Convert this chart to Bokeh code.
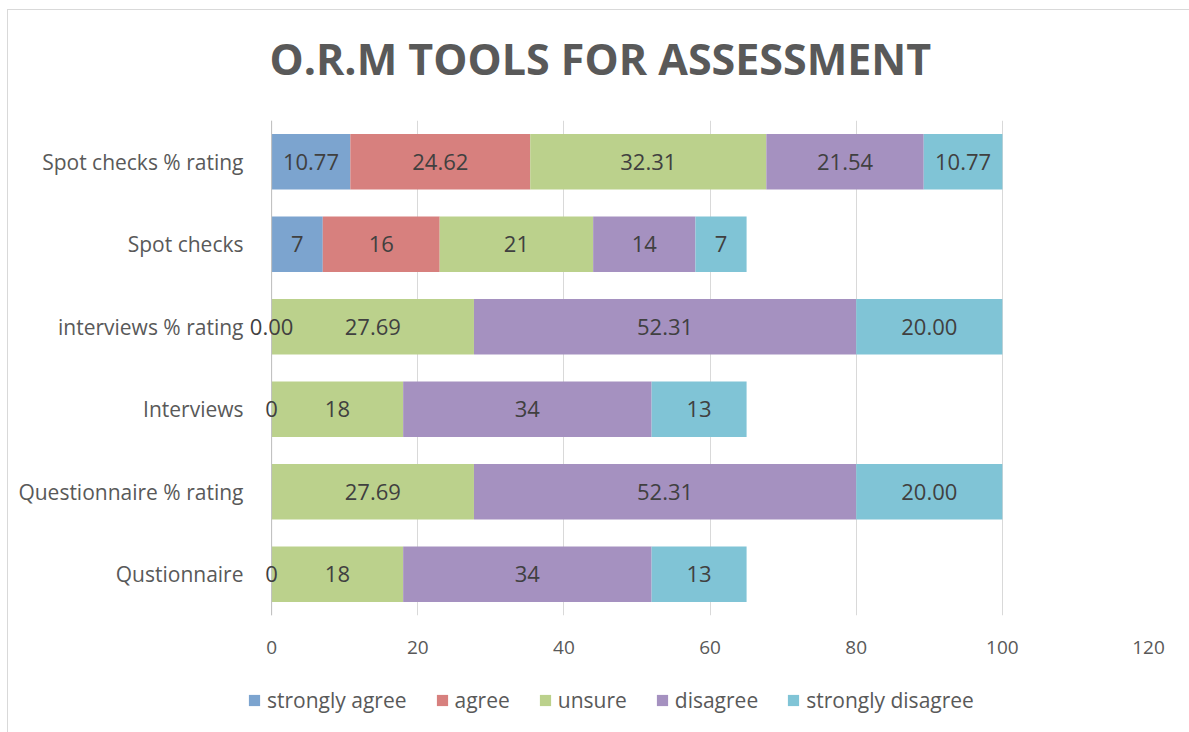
import numpy as np
from bokeh.plotting import figure
from bokeh.layouts import column
from bokeh.models import (ColumnDataSource, Legend, LegendItem, FixedTicker,
                          LabelSet, Span, Range1d)
from bokeh.core.properties import value
from bokeh.embed import file_html
from bokeh.resources import INLINE

title_text = "O.R.M TOOLS FOR ASSESSMENT"
categories = ["Qustionnaire", "Questionnaire % rating", "Interviews",
              "interviews % rating", "Spot checks", "Spot checks % rating"]
series = ["strongly agree", "agree", "unsure", "disagree", "strongly disagree"]
colors = ["#7ca4cf", "#d7807e", "#bbd18c", "#a591c0", "#80c4d6"]

# NaN = no value / no label shown
strongly_agree = [np.nan, np.nan, np.nan, np.nan, 7, 10.77]
agree = [0, np.nan, 0, 0.00, 16, 24.62]
unsure = [18, 27.69, 18, 27.69, 21, 32.31]
disagree = [34, 52.31, 34, 52.31, 14, 21.54]
strongly_disagree = [13, 20.00, 13, 20.00, 7, 10.77]
is_percent = [False, True, False, True, False, True]
x_ticks = [0, 20, 40, 60, 80, 100, 120]

FONT = "Open Sans"
TXT = "#595959"
W = 1181
FW = 901


def bare(fig):
    fig.axis.visible = False
    fig.grid.visible = False
    fig.outline_line_color = None
    return fig


# ---- header with the title (its frame is aligned with the chart frame) ----
head = bare(figure(width=W, height=110, x_range=Range1d(0, FW), y_range=Range1d(0, 110),
                   output_backend="svg", toolbar_location=None, min_border=0))
head.text(x=[22], y=[62], text=[title_text], text_align="left",
          text_baseline="alphabetic", text_font=value(FONT), text_font_size="43px",
          text_font_style="bold", text_color=TXT)

# ---- main chart ----
p = figure(frame_width=FW, frame_height=495, y_range=categories, x_range=(-3.3, 120),
           output_backend="svg", toolbar_location=None,
           min_border_left=239, min_border_right=41, min_border_top=0,
           min_border_bottom=55)
p.outline_line_color = None

p.xgrid.grid_line_color = "#d9d9d9"
p.xgrid.ticker = FixedTicker(ticks=x_ticks)
p.ygrid.grid_line_color = None
p.add_layout(Span(location=0, dimension="height", line_color="#bfbfbf", line_width=1))

data = [strongly_agree, agree, unsure, disagree, strongly_disagree]
left = np.zeros(len(categories))
lab_x, lab_y, lab_t = [], [], []
for name, vals, col in zip(series, data, colors):
    v = np.array(vals, dtype=float)
    w = np.nan_to_num(v)
    src = ColumnDataSource(dict(y=categories, left=left.copy(), right=left + w))
    p.hbar(y="y", left="left", right="right", height=0.67, source=src,
           fill_color=col, line_color=None)
    for i in range(len(categories)):
        if not np.isnan(v[i]):
            lab_x.append(left[i] + w[i] / 2)
            lab_y.append(categories[i])
            lab_t.append(f"{v[i]:.2f}" if is_percent[i] else f"{v[i]:.0f}")
    left = left + w

lab_src = ColumnDataSource(dict(x=lab_x, y=lab_y, t=lab_t))
p.add_layout(LabelSet(x="x", y="y", text="t", source=lab_src,
                      text_align="center", text_baseline="middle",
                      text_font=value(FONT), text_font_size="22px",
                      text_color="#404040"))

p.xaxis.ticker = FixedTicker(ticks=x_ticks)
p.xaxis.axis_line_color = None
p.xaxis.major_tick_line_color = None
p.xaxis.minor_tick_line_color = None
p.xaxis.major_label_text_font = FONT
p.xaxis.major_label_text_font_size = "19px"
p.xaxis.major_label_text_color = TXT
p.xaxis.major_label_standoff = 19

p.yaxis.axis_line_color = None
p.yaxis.major_tick_line_color = None
p.yaxis.minor_tick_line_color = None
p.yaxis.major_label_text_font = FONT
p.yaxis.major_label_text_font_size = "21px"
p.yaxis.major_label_text_color = TXT
p.yaxis.major_label_standoff = -2

# ---- legend strip (swatch renderers sit outside the visible range) ----
leg = bare(figure(width=W, height=62, x_range=Range1d(0, 1), y_range=Range1d(0, 1),
                  output_backend="svg", toolbar_location=None, min_border=0))
items = []
for name, col in zip(series, colors):
    r = leg.hbar(y=[-5], left=[0], right=[0], height=0.1, fill_color=col,
                 line_color=None)
    items.append(LegendItem(label=name, renderers=[r]))
legend = Legend(items=items, orientation="horizontal", location=(0, 18),
                border_line_color=None, background_fill_alpha=0,
                glyph_width=14, glyph_height=14, label_height=14,
                label_text_font=FONT, label_text_font_size="21px",
                label_text_color=TXT, spacing=28, label_standoff=6,
                padding=0, margin=0)
leg.add_layout(legend, "center")

layout = column(head, p, leg, spacing=0)
layout.styles = {"margin-left": "7px", "margin-top": "9px",
                 "border-left": "1px solid #d9d9d9", "border-top": "1px solid #d9d9d9"}

open("out.html", "w").write(file_html(layout, INLINE))
